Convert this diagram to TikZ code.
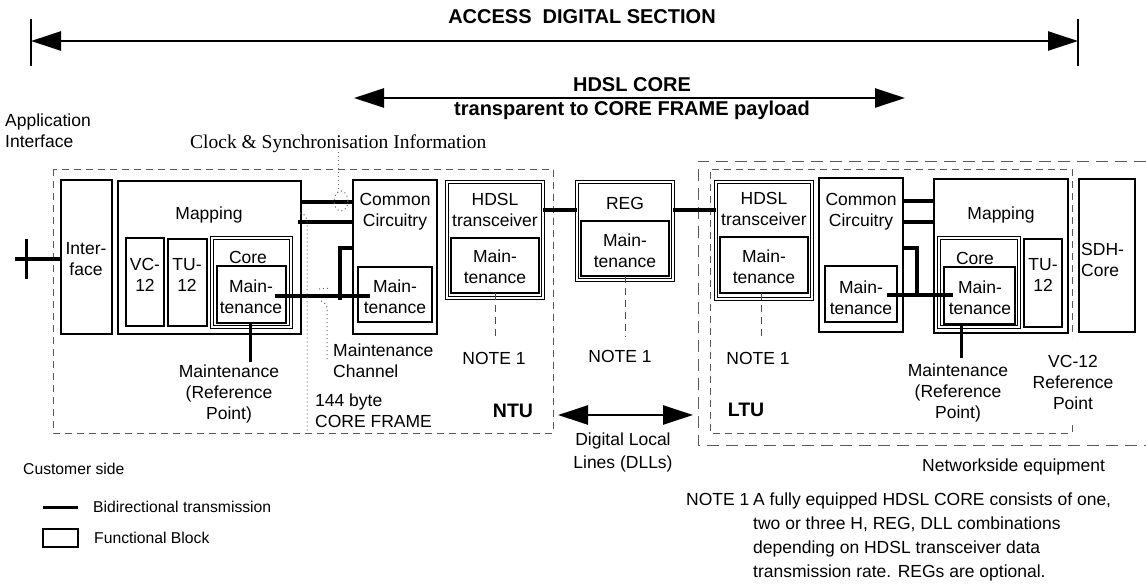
\documentclass[tikz,border=0pt]{standalone}
\usepackage{fontspec}
\setmainfont{Liberation Sans}
\newfontfamily\tmsfont{Liberation Serif}
\usetikzlibrary{arrows.meta,calc}
\newcommand\bx[6]{\node[#2,anchor=north west,minimum width={#5-#3},minimum height={#6-#4}] (#1) at (#3,#4) {};}
\begin{document}
\begin{tikzpicture}[x=1pt,y=-1pt,
  box/.style={draw,line width=1.5pt,inner sep=0pt,outer sep=0pt},
  dbox/.style={draw,line width=0.9pt,double,double distance=1.6pt,inner sep=0pt,outer sep=0pt},
  bidir/.style={line width=3.5pt},
  lbl/.style={font=\fontsize{17.5}{21}\selectfont,align=center,inner sep=0pt},
  lbll/.style={font=\fontsize{17.5}{21}\selectfont,align=left,inner sep=0pt},
  bold/.style={font=\fontsize{20}{24}\selectfont\bfseries,inner sep=0pt},
  boldm/.style={font=\fontsize{19.5}{22}\selectfont\bfseries,inner sep=0pt},
  small/.style={font=\fontsize{15.7}{23.5}\selectfont,align=left,inner sep=0pt},
  note/.style={font=\fontsize{17.5}{24}\selectfont,align=left,inner sep=0pt},
  dsh/.style={draw=black!65,line width=1pt,dash pattern=on 7pt off 5pt},
  dshl/.style={draw=black!65,line width=1pt,dash pattern=on 12pt off 7pt},
  dotl/.style={draw=black!60,line width=1pt,dash pattern=on 1pt off 3pt},
  arr/.style={line width=2.5pt,{Triangle[length=30pt,width=19pt]}-{Triangle[length=30pt,width=19pt]}}]
\useasboundingbox (0,0) rectangle (1146,587);

% ---------- top arrows ----------
\coordinate (aL) at (31,41);
\coordinate (aR) at (1078,41);
\draw[line width=1.5pt] ([yshift=22pt]aL) -- ([yshift=-25pt]aL);
\draw[line width=1.5pt] ([yshift=22pt]aR) -- ([yshift=-25pt]aR);
\draw[arr] (aL) -- (aR);
\node[bold] (tAccess) at (582,17) {ACCESS\ \ DIGITAL SECTION};
\coordinate (hL) at (354,98);
\coordinate (hR) at (905,98);
\draw[arr] (hL) -- (hR);
\node[bold] (tHdsl) at (632,85) {HDSL CORE};
\node[bold] (tTransp) at (632,110) {transparent to CORE FRAME payload};

\node[lbll,anchor=north west] (tApp) at (5,114) {Application\\Interface};
\node[font=\fontsize{19.5}{22}\tmsfont,inner sep=0pt,anchor=west] (tClock) at (190,144) {Clock \& Synchronisation Information};

% ---------- dashed enclosures ----------
\draw[dsh] (53,169) rectangle (553,433);
\draw[dshl] (1146,161) -- (698,161) -- (698,445) -- (1146,445);
\draw[dsh] (1072,425) -- (1072,433) -- (710,433) -- (710,169) -- (1072,169) -- (1072,337);

% ---------- boxes ----------
\bx{iface}{box}{61}{180}{112}{334}
\bx{mapL}{box}{118}{181}{301}{334}
\bx{vcL}{box}{126}{238}{164}{326}
\bx{tuL}{box}{168}{239}{207}{326}
\bx{coreL}{dbox}{212}{238}{291}{327}
\bx{mcoreL}{box}{217}{266}{286}{323}
\bx{comL}{box}{353}{180}{437}{334}
\bx{mcomL}{box}{358}{267}{432}{322}
\bx{hdL}{dbox}{447}{182}{543}{298}
\bx{mhdL}{box}{451}{238}{539}{293}
\bx{reg}{dbox}{577}{182}{673}{280}
\bx{mreg}{box}{581}{221}{669}{276}
\bx{hdR}{dbox}{716}{182}{812}{299}
\bx{mhdR}{box}{720}{237}{808}{293}
\bx{comR}{box}{819}{178}{903}{332}
\bx{mcomR}{box}{825}{266}{897}{322}
\bx{mapR}{box}{934}{179}{1068}{333}
\bx{coreR}{dbox}{939}{238}{1019}{327}
\bx{mcoreR}{box}{944}{267}{1015}{324}
\bx{tuR}{box}{1024}{239}{1062}{327}
\bx{sdh}{box}{1079}{179}{1135}{332}

% ---------- box labels ----------
\node[lbl] (tIface) at (86,259) {Inter-\\face};
\node[lbl] (tMapL) at (209,215) {Mapping};
\node[lbl] (tVc) at (145,275) {VC-\\12};
\node[lbl] (tTuL) at (187,275) {TU-\\12};
\node[lbl] (tCoreL) at (248,257) {Core};
\node[lbl] (tMcoreL) at (251,297) {Main-\\tenance};
\node[lbl] (tComL) at (395,212) {Common\\Circuitry};
\node[lbl] (tMcomL) at (395,297) {Main-\\tenance};
\node[lbl] (tHdL) at (495,210) {HDSL\\transceiver};
\node[lbl] (tMhdL) at (495,267) {Main-\\tenance};
\node[lbl] (tReg) at (625,203) {REG};
\node[lbl] (tMreg) at (625,251) {Main-\\tenance};
\node[lbl] (tHdR) at (764,209) {HDSL\\transceiver};
\node[lbl] (tMhdR) at (764,267) {Main-\\tenance};
\node[lbl] (tComR) at (861,212) {Common\\Circuitry};
\node[lbl] (tMcomR) at (861,298) {Main-\\tenance};
\node[lbl] (tMapR) at (1001,215) {Mapping};
\node[lbl] (tCoreR) at (975,258) {Core};
\node[lbl] (tMcoreR) at (980,298) {Main-\\tenance};
\node[lbl] (tTuR) at (1043,275) {TU-\\12};
\node[lbll,anchor=west] (tSdh) at (1081,260) {SDH-\\Core};

% ---------- bidirectional links ----------
\coordinate (ifx) at (15,259);
\draw[bidir] (ifx) -- (ifx -| iface.west);
\coordinate (ifc) at (26,259);
\draw[line width=3pt] ([yshift=20pt]ifc) -- ([yshift=-20pt]ifc);

\coordinate (m1) at ($(mapL.north east)+(-1,21)$);
\draw[bidir] (m1) -- (m1 -| comL.west);
\coordinate (m2) at ($(mapL.north east)+(-3,41)$);
\draw[bidir] (m2) -- (m2 -| comL.west);
\coordinate (l1) at ($(comL.north west)+(0,68)$);
\coordinate (l2) at ($(comL.north west)+(-13,68)$);
\coordinate (l3) at ($(comL.north west)+(-13,120)$);
\draw[bidir] (l1) -- (l2) -- (l3);
\coordinate (mm1) at ($(mcoreL.north east)+(-11,30)$);
\coordinate (mm2) at ($(mcomL.north west)+(12,29)$);
\draw[bidir] (mm1) -- (mm1 -| mm2);
\coordinate (rp1) at ($(mcoreL.south)+(-1,0)$);
\coordinate (rp2) at ($(mcoreL.south)+(-1,39)$);
\draw[bidir] (rp1) -- (rp2);

\coordinate (h1) at ($(hdL.north east)+(0,28)$);
\draw[bidir] (h1) -- (h1 -| reg.west);
\coordinate (h2) at ($(reg.north east)+(0,28)$);
\draw[bidir] (h2) -- (h2 -| hdR.west);

\coordinate (r1) at ($(comR.north east)+(0,23)$);
\draw[bidir] (r1) -- (r1 -| mapR.west);
\coordinate (r2) at ($(comR.north east)+(0,44)$);
\draw[bidir] (r2) -- (r2 -| mapR.west);
\coordinate (rl1) at ($(comR.north east)+(0,70)$);
\coordinate (rl2) at ($(comR.north east)+(14,70)$);
\coordinate (rl3) at ($(comR.north east)+(14,119)$);
\draw[bidir] (rl1) -- (rl2) -- (rl3);
\coordinate (rm1) at ($(mcomR.north east)+(-10,29)$);
\coordinate (rm2) at ($(mcoreR.north west)+(9,28)$);
\draw[bidir] (rm1) -- (rm1 -| rm2);
\coordinate (rr1) at ($(mcoreR.south)+(-18,0)$);
\coordinate (rr2) at ($(mcoreR.south)+(-18,34)$);
\draw[bidir] (rr1) -- (rr2);

% ---------- NOTE pointers ----------
\node[lbl] (n1) at (494,358) {NOTE 1};
\node[lbl] (n2) at (620,356) {NOTE 1};
\node[lbl] (n3) at (758,358) {NOTE 1};
\draw[dsh,draw=black!70] (mhdL.south) -- (mhdL.south |- 0,340);
\draw[dsh,draw=black!70] (mreg.south) -- (mreg.south |- 0,337);
\draw[dsh,draw=black!70] ($(mhdR.south)+(-3,0)$) -- ($(mhdR.south)+(-3,47)$);

% ---------- dotted lines ----------
\draw[dotl] (338,152) -- (338,190);
\draw[dotl] (341,201) ellipse [x radius=7, y radius=10];
\draw[dotl] (300,213) .. controls (309,215) and (307,222) .. (307,232) -- (307,432);
\draw[dotl] (319,289) -- (331,288);
\draw[dotl] (321,301) .. controls (326,303) and (328,306) .. (327,313) -- (327,362);

% ---------- other labels ----------
\node[lbl] (tMrefL) at (229,394) {Maintenance\\(Reference\\Point)};
\node[lbl] (tMrefR) at (958,393) {Maintenance\\(Reference\\Point)};
\node[lbll,anchor=west] (tMch) at (333,361) {Maintenance\\Channel};
\node[lbll,anchor=west] (t144) at (315,411) {144 byte\\CORE FRAME};
\node[boldm] (tNtu) at (513,411) {NTU};
\node[boldm] (tLtu) at (746,410) {LTU};
\node[lbl] (tVcref) at (1073,382) {VC-12\\Reference\\Point};

\coordinate (d1) at (558,415);
\coordinate (d2) at (693,415);
\draw[arr] (d1) -- (d2);
\node[lbl,font=\fontsize{17.5}{23}\selectfont] (tDll) at (623,452) {Digital Local\\Lines (DLLs)};

% ---------- legend & notes ----------
\node[small,anchor=west] (tCust) at (23,469) {Customer side};
\node[note,anchor=west] (tNet) at (922,467) {Networkside equipment};
\coordinate (lg1) at (43,507);
\coordinate (lg2) at (78,507);
\draw[bidir,line width=3pt] (lg1) -- (lg2);
\node[small,anchor=west] (tBid) at (93,507) {Bidirectional transmission};
\bx{lgbox}{box}{43}{529}{78}{547}
\node[small,anchor=west] (tFb) at (94,538) {Functional Block};
\node[note,anchor=north west] (tNote) at (686,493) {NOTE 1};
\node[note,anchor=north west] (tNoteTxt) at (753,493) {A fully equipped HDSL CORE consists of one,\\two or three H, REG, DLL combinations\\depending on HDSL transceiver data\\transmission rate. REGs are optional.};
\end{tikzpicture}
\end{document}
